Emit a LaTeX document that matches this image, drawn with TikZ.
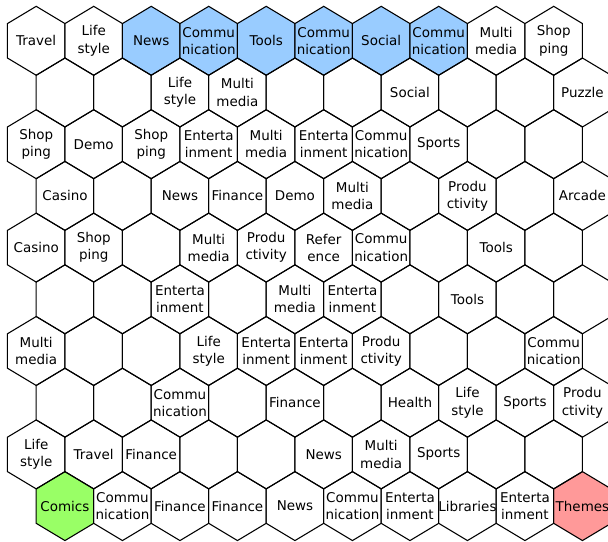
\documentclass[tikz,border=0pt]{standalone}
\usepackage{fontspec}
\setmainfont{DejaVu Sans}
\definecolor{hexblue}{RGB}{153,204,255}
\definecolor{hexgreen}{RGB}{153,255,102}
\definecolor{hexred}{RGB}{255,153,153}
\tikzset{
  hexcell/.style={draw=black, line width=0.8pt, line join=miter},
  lbl/.style={align=center, inner sep=0pt, font=\fontsize{10.1}{12.9}\selectfont},
}
\newcommand{\hexshape}{(0,-34.47) -- (28.75,-17.23) -- (28.75,17.23) -- (0,34.47) -- (-28.75,17.23) -- (-28.75,-17.23) -- cycle}
\begin{document}
\begin{tikzpicture}[x=0.75pt,y=-0.75pt]
\useasboundingbox (0,0) rectangle (608,542);
\fill[white] (0,0) rectangle (608,542);
\clip (0,0) rectangle (608,542);
% coloured cells
\foreach \r/\k/\c in {0/2/hexblue,0/3/hexblue,0/4/hexblue,0/5/hexblue,0/6/hexblue,0/7/hexblue,9/0/hexgreen,9/9/hexred}{
  \pgfmathsetmacro\cx{36.2+57.5*\k+28.75*mod(\r,2)}
  \pgfmathsetmacro\cy{40.8+51.7*\r}
  \fill[\c, shift={(\cx,\cy)}] \hexshape;
}
% grid
\foreach \r in {0,...,9}{
  \foreach \k in {0,...,9}{
    \pgfmathsetmacro\cx{36.2+57.5*\k+28.75*mod(\r,2)}
    \pgfmathsetmacro\cy{40.8+51.7*\r}
    \draw[hexcell, shift={(\cx,\cy)}] \hexshape;
  }
}
% labels
\foreach \r/\k/\t in {
  0/0/Travel, 0/1/{Life\\style}, 0/2/News, 0/3/{Commu\\nication}, 0/4/Tools, 0/5/{Commu\\nication}, 0/6/Social, 0/7/{Commu\\nication}, 0/8/{Multi\\media}, 0/9/{Shop\\ping},
  1/2/{Life\\style}, 1/3/{Multi\\media}, 1/6/Social, 1/9/Puzzle,
  2/0/{Shop\\ping}, 2/1/Demo, 2/2/{Shop\\ping}, 2/3/{Enterta\\inment}, 2/4/{Multi\\media}, 2/5/{Enterta\\inment}, 2/6/{Commu\\nication}, 2/7/Sports,
  3/0/Casino, 3/2/News, 3/3/Finance, 3/4/Demo, 3/5/{Multi\\media}, 3/7/{Produ\\ctivity}, 3/9/Arcade,
  4/0/Casino, 4/1/{Shop\\ping}, 4/3/{Multi\\media}, 4/4/{Produ\\ctivity}, 4/5/{Refer\\ence}, 4/6/{Commu\\nication}, 4/8/Tools,
  5/2/{Enterta\\inment}, 5/4/{Multi\\media}, 5/5/{Enterta\\inment}, 5/7/Tools,
  6/0/{Multi\\media}, 6/3/{Life\\style}, 6/4/{Enterta\\inment}, 6/5/{Enterta\\inment}, 6/6/{Produ\\ctivity}, 6/9/{Commu\\nication},
  7/2/{Commu\\nication}, 7/4/Finance, 7/6/Health, 7/7/{Life\\style}, 7/8/Sports, 7/9/{Produ\\ctivity},
  8/0/{Life\\style}, 8/1/Travel, 8/2/Finance, 8/5/News, 8/6/{Multi\\media}, 8/7/Sports,
  9/0/Comics, 9/1/{Commu\\nication}, 9/2/Finance, 9/3/Finance, 9/4/News, 9/5/{Commu\\nication}, 9/6/{Enterta\\inment}, 9/7/Libraries, 9/8/{Enterta\\inment}, 9/9/Themes}{
  \pgfmathsetmacro\cx{36.2+57.5*\k+28.75*mod(\r,2)}
  \pgfmathsetmacro\cy{40.8+51.7*\r}
  \node[lbl] (c-\r-\k) at (\cx,\cy) {\t};
}
\end{tikzpicture}
\end{document}
